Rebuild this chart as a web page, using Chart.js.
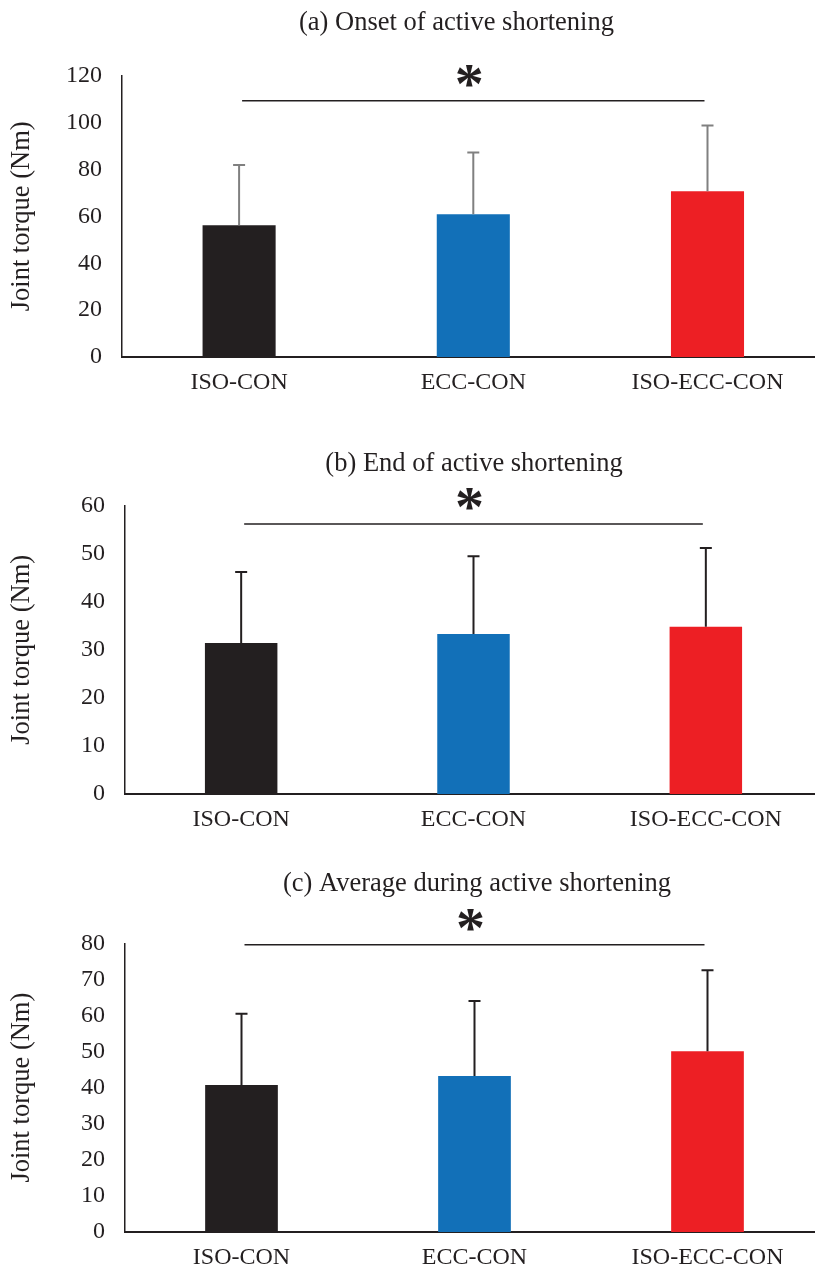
<!DOCTYPE html>
<html>
<head>
<meta charset="utf-8">
<script src="https://cdn.jsdelivr.net/npm/chart.js@4.4.1/dist/chart.umd.min.js"></script>
<style>
  html, body { margin: 0; padding: 0; background: #ffffff; overflow: hidden; width: 815px; height: 1270px; }
  .box { position: absolute; left: 0; }
</style>
</head>
<body>
<div class="box" id="boxA" style="top:0px; width:913px; height:402px;"><canvas id="cA"></canvas></div>
<div class="box" id="boxB" style="top:402px; width:948px; height:437px;"><canvas id="cB"></canvas></div>
<div class="box" id="boxC" style="top:839px; width:954px; height:438px;"><canvas id="cC"></canvas></div>
<script>
// ---- data ----
const categories = ['ISO-CON', 'ECC-CON', 'ISO-ECC-CON'];
const panelTitles = ['(a) Onset of active shortening', '(b) End of active shortening', '(c) Average during active shortening'];
const yAxisLabel = 'Joint torque (Nm)';

const onsetMean = [56.2, 60.9, 70.7];
const onsetSD   = [25.7, 26.3, 28.1];
const endMean   = [31.4, 33.3, 34.8];
const endSD     = [14.8, 16.2, 16.4];
const avgMean   = [40.7, 43.2, 50.1];
const avgSD     = [19.8, 20.8, 22.4];

const sigPair   = [0, 2];           // compared categories (ISO-CON vs ISO-ECC-CON)
const sigLevels = [109.3, 56.2, 79.6];
const sigMark   = '*';

const yMax  = [120, 60, 80];
const yStep = [20, 10, 10];

// ---- styles ----
const barColors = ['#231f20', '#1270b8', '#ed1f24'];
const errColors = ['#808080', '#231f20', '#231f20'];
const ink = '#231f20';
const serif = '"Liberation Serif", "Times New Roman", serif';

const errorBarPlugin = {
  id: 'errorBars',
  afterDatasetsDraw(chart, args, opts) {
    const ctx = chart.ctx;
    const meta = chart.getDatasetMeta(0);
    const ys = chart.scales.y;
    const ds = chart.data.datasets[0];
    ctx.save();
    ctx.strokeStyle = opts.color;
    ctx.lineWidth = 2;
    meta.data.forEach((el, i) => {
      const top = ys.getPixelForValue(ds.data[i] + opts.sd[i]);
      ctx.beginPath();
      ctx.moveTo(el.x, el.y);
      ctx.lineTo(el.x, top);
      ctx.moveTo(el.x - 6, top);
      ctx.lineTo(el.x + 6, top);
      ctx.stroke();
    });
    ctx.restore();
  }
};

const sigPlugin = {
  id: 'sigBracket',
  afterDatasetsDraw(chart, args, opts) {
    const ctx = chart.ctx;
    const xs = chart.scales.x, ys = chart.scales.y;
    const x1 = xs.getPixelForValue(opts.pair[0]) + 3;
    const x2 = xs.getPixelForValue(opts.pair[1]) - 3;
    const y = ys.getPixelForValue(opts.level);
    ctx.save();
    ctx.strokeStyle = ink;
    ctx.lineWidth = 1.5;
    ctx.beginPath();
    ctx.moveTo(x1, y);
    ctx.lineTo(x2, y);
    ctx.stroke();
    ctx.fillStyle = ink;
    ctx.font = 'bold 58px ' + serif;
    ctx.textAlign = 'center';
    ctx.textBaseline = 'middle';
    ctx.fillText(opts.mark, (x1 + x2) / 2 - 4, y - 13);
    ctx.restore();
  }
};

function makeChart(canvasId, idx, means, sds, yAxisW, rightW, titlePad) {
  return new Chart(document.getElementById(canvasId), {
    type: 'bar',
    data: {
      labels: categories,
      datasets: [{
        data: means,
        backgroundColor: barColors,
        borderWidth: 0,
        barPercentage: 0.312,
        categoryPercentage: 1.0
      }]
    },
    options: {
      responsive: true,
      maintainAspectRatio: false,
      animation: false,
      devicePixelRatio: 1,
      layout: { padding: 0 },
      plugins: {
        legend: { display: false },
        tooltip: { enabled: false },
        title: {
          display: true,
          text: panelTitles[idx],
          color: ink,
          font: { family: serif, size: 26.5, weight: 'normal', lineHeight: 1.2 },
          padding: titlePad
        },
        errorBars: { sd: sds, color: errColors[idx] },
        sigBracket: { pair: sigPair, level: sigLevels[idx], mark: sigMark }
      },
      scales: {
        x: {
          grid: { display: false, drawTicks: false },
          border: { display: true, color: ink, width: 2 },
          ticks: { color: ink, font: { family: serif, size: 24, lineHeight: 1.2 }, padding: 11, maxRotation: 0 },
          afterFit: s => { s.height = 45; }
        },
        y: {
          min: 0, max: yMax[idx],
          grid: { display: false, drawTicks: false },
          border: { display: true, color: ink, width: 1.5 },
          ticks: { stepSize: yStep[idx], color: ink, font: { family: serif, size: 24, lineHeight: 1.2 }, padding: 20 },
          title: {
            display: true, text: yAxisLabel, color: ink,
            font: { family: serif, size: 26.5, weight: 'normal', lineHeight: 1.2 },
            padding: { top: 6, bottom: 0 }
          },
          afterFit: s => { s.width = yAxisW; }
        },
        yR: {
          position: 'right', type: 'linear', display: true,
          grid: { display: false, drawTicks: false },
          border: { display: false },
          ticks: { display: false },
          afterFit: s => { s.width = rightW; }
        }
      }
    },
    plugins: [errorBarPlugin, sigPlugin]
  });
}

makeChart('cA', 0, onsetMean, onsetSD, 122, 88.4, { top: 7.5, bottom: 36.4 });
makeChart('cB', 1, endMean, endSD, 125, 126, { top: 46.5, bottom: 25.4 });
makeChart('cC', 2, avgMean, avgSD, 125, 130, { top: 28.9, bottom: 43.6 });
</script>
</body>
</html>
